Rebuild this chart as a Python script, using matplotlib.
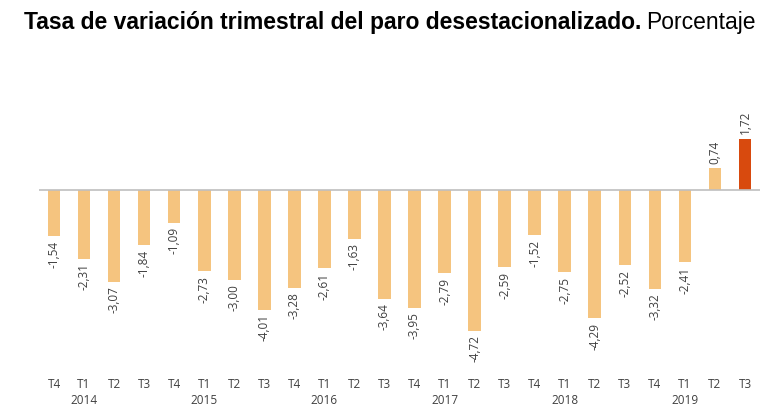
import matplotlib
matplotlib.use("Agg")
import matplotlib.pyplot as plt

quarters = ["T4", "T1", "T2", "T3", "T4", "T1", "T2", "T3", "T4", "T1", "T2", "T3",
            "T4", "T1", "T2", "T3", "T4", "T1", "T2", "T3", "T4", "T1", "T2", "T3"]
years = ["", "2014", "", "", "", "2015", "", "", "", "2016", "", "",
         "", "2017", "", "", "", "2018", "", "", "", "2019", "", ""]
values = [-1.54, -2.31, -3.07, -1.84, -1.09, -2.73, -3.00, -4.01, -3.28, -2.61, -1.63, -3.64,
          -3.95, -2.79, -4.72, -2.59, -1.52, -2.75, -4.29, -2.52, -3.32, -2.41, 0.74, 1.72]

light = "#F5C47F"
dark = "#D84A0E"
colors = [light] * (len(values) - 1) + [dark]

fig = plt.figure(figsize=(7.78, 4.17), dpi=100)
ax = fig.add_axes([39 / 778, 1 - 375 / 417, (760 - 39) / 778, (375 - 115.5) / 417])

x = list(range(len(values)))
ax.bar(x, values, width=0.42, color=colors, zorder=2)
ax.axhline(0, color="#BFBFBF", lw=1.2, zorder=3)
ax.set_xlim(-0.5, len(values) - 0.5)
ax.set_ylim(-6.2, 2.5)

for xi, v in zip(x, values):
    s = f"{v:.2f}".replace(".", ",")
    if v < 0:
        ax.text(xi, v - 0.15, s, rotation=90, ha="center", va="top", fontsize=8.5,
                color="#404040", family="Open Sans")
    else:
        ax.text(xi, v + 0.15, s, rotation=90, ha="center", va="bottom", fontsize=8.5,
                color="#404040", family="Open Sans")

labels = [q + ("\n" + y if y else "\n") for q, y in zip(quarters, years)]
ax.set_xticks(x)
ax.set_xticklabels(labels, fontsize=8.5, color="#404040", family="Open Sans", linespacing=1.3)
ax.tick_params(axis="x", length=0, pad=2)
ax.set_yticks([])
for sp in ax.spines.values():
    sp.set_visible(False)

fig.text(24 / 778, 1 - 23 / 417, "Tasa de variación trimestral del paro desestacionalizado.",
         fontsize=16.5, fontweight="bold", family="Liberation Sans", va="center", ha="left")
t = fig.texts[0]
fig.canvas.draw()
bb = t.get_window_extent()
fig.text(bb.x1 / 778 + 5 / 778, 1 - 23 / 417, "Porcentaje", fontsize=16.5,
         family="Liberation Sans", va="center", ha="left")

fig.savefig("out.png", dpi=100)
